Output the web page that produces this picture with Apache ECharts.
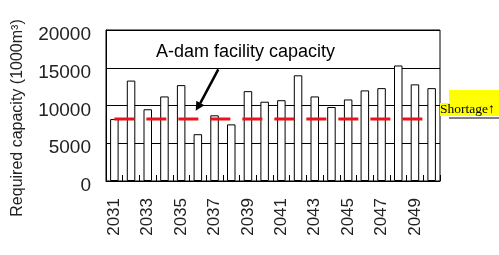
<!DOCTYPE html>
<html>
<head>
<meta charset="utf-8">
<script src="https://cdn.jsdelivr.net/npm/echarts@6/dist/echarts.min.js"></script>
<style>html,body{margin:0;padding:0;background:#fff}#c{width:499px;height:255px}</style>
</head>
<body>
<div id="c"></div>
<script>
var years = ['2031','2032','2033','2034','2035','2036','2037','2038','2039','2040','2041','2042','2043','2044','2045','2046','2047','2048','2049','2050'];
var required = [8200,13300,9500,11200,12700,6200,8700,7500,11900,10500,10700,14000,11200,9800,10800,12000,12300,15300,12800,12300];
var capacity = [8200,8200,8200,8200,8200,8200,8200,8200,8200,8200,8200,8200,8200,8200,8200,8200,8200,8200,8200,8200];
var yTicks = [0,5000,10000,15000,20000];

var chart = echarts.init(document.getElementById('c'), null, {renderer:'canvas'});
chart.setOption({
  animation:false,
  backgroundColor:'#fff',
  grid:{left:106,right:59,top:30,bottom:74,show:true,borderColor:'#000',borderWidth:1,backgroundColor:'transparent'},
  xAxis:{
    type:'category',data:years,
    axisLine:{lineStyle:{color:'#000',width:1}},
    axisTick:{show:true,inside:true,length:6,alignWithLabel:false,interval:0,lineStyle:{color:'#000'}},
    axisLabel:{interval:1,rotate:90,margin:17,fontFamily:'Liberation Sans',fontSize:17,color:'#222'}
  },
  yAxis:{
    type:'value',min:yTicks[0],max:yTicks[yTicks.length-1],interval:5000,
    axisLine:{show:true,lineStyle:{color:'#000'}},
    axisTick:{show:false},
    splitLine:{lineStyle:{color:'#000',width:1}},
    axisLabel:{margin:15,color:'#222',
      formatter:function(v){return '{a|'+String(v)+'}';},
      rich:{a:{fontFamily:'Liberation Sans',fontSize:19,color:'#222',padding:[10,0,0,0]}}}
  },
  series:[
    {type:'bar',data:required,barWidth:8.5,itemStyle:{color:'#fff',borderColor:'#000',borderWidth:1}},
    {type:'line',data:capacity,symbol:'none',lineStyle:{color:'#e8141a',width:3,type:[20,12]},z:5}
  ],
  graphic:[
    {type:'text',x:18,y:118,rotation:Math.PI/2,style:{text:'Required capacity (1000m³)',font:'16px Liberation Sans',fill:'#222',align:'center',verticalAlign:'middle'}},
    {type:'text',x:156,y:52,style:{text:'A-dam facility capacity',font:'18px Liberation Sans',fill:'#000',align:'left',verticalAlign:'middle'},z:10},
    {type:'line',shape:{x1:218.3,y1:69.3,x2:200.3,y2:103.1},style:{stroke:'#000',lineWidth:2.5},z:10},
    {type:'polygon',shape:{points:[[195.7,110.7],[204.4,105.2],[196.3,100.8]]},style:{fill:'#000'},z:10},
    {type:'rect',shape:{x:449,y:90,width:50,height:26},style:{fill:'#ffff00'},z:10},
    {type:'rect',shape:{x:440,y:103,width:59,height:13},style:{fill:'#ffff00'},z:10},
    {type:'text',x:440,y:109.5,style:{text:'Shortage↑',font:'13.5px Liberation Serif',fill:'#000',align:'left',verticalAlign:'middle'},z:11},
    {type:'line',shape:{x1:449,y1:118,x2:499,y2:118},style:{stroke:'#000',lineWidth:1},z:11}
  ]
});
</script>
</body>
</html>
